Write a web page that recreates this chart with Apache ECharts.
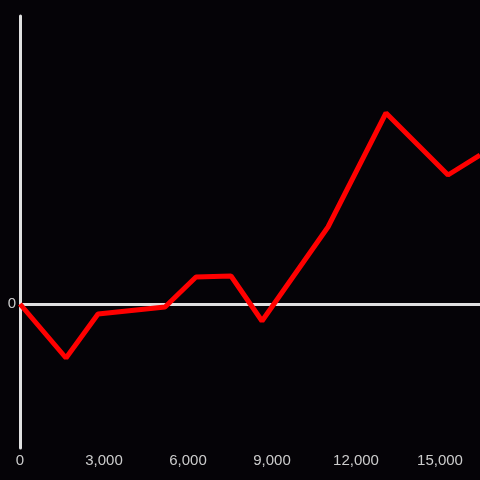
<!DOCTYPE html>
<html>
<head>
<meta charset="utf-8">
<script src="https://cdn.jsdelivr.net/npm/echarts@6/dist/echarts.min.js"></script>
<style>
html,body{margin:0;padding:0;background:#050307;}
#c{width:480px;height:480px;}
</style>
</head>
<body>
<div id="c"></div>
<script>
var xValues = [0, 1643, 2786, 5179, 6286, 7536, 8643, 11000, 13071, 15286, 16429];
var yValues = [0, -54, -10, -3, 27, 28, -17, 77, 191, 129, 149];
var xTicks = [0, 3000, 6000, 9000, 12000, 15000];

var chart = echarts.init(document.getElementById('c'));
chart.setOption({
  backgroundColor: '#050307',
  animation: false,
  grid: {left: 20, right: 0, top: 16, bottom: 32, containLabel: false},
  xAxis: {
    type: 'value', min: 0, max: 16429, interval: 3000,
    axisLine: {show: false},
    axisTick: {show: false},
    splitLine: {show: false},
    axisLabel: {
      color: '#cccccc', fontSize: 15, fontFamily: 'Liberation Sans', margin: 5,
      showMaxLabel: false,
      formatter: function(v){ return xTicks.indexOf(v) >= 0 ? v.toLocaleString('en-US') : ''; }
    }
  },
  yAxis: {
    type: 'value', min: -144, max: 288, interval: 144,
    axisLine: {show: true, onZero: false, lineStyle: {color: '#e0e0e0', width: 3}},
    axisTick: {show: false},
    splitLine: {show: false},
    axisLabel: {
      color: '#cccccc', fontSize: 15, fontFamily: 'Liberation Sans', margin: 4,
      formatter: function(v){ return v === 0 ? '0' : ''; }
    }
  },
  series: [{
    type: 'line',
    data: xValues.map(function(x, i){ return [x, yValues[i]]; }),
    symbol: 'none',
    lineStyle: {color: '#ff0000', width: 5},
    z: 3,
    markLine: {
      silent: true, symbol: 'none', label: {show: false},
      lineStyle: {color: '#e0e0e0', width: 3, type: 'solid'},
      data: [{yAxis: 0}],
      z: 2
    }
  }]
});
</script>
</body>
</html>
